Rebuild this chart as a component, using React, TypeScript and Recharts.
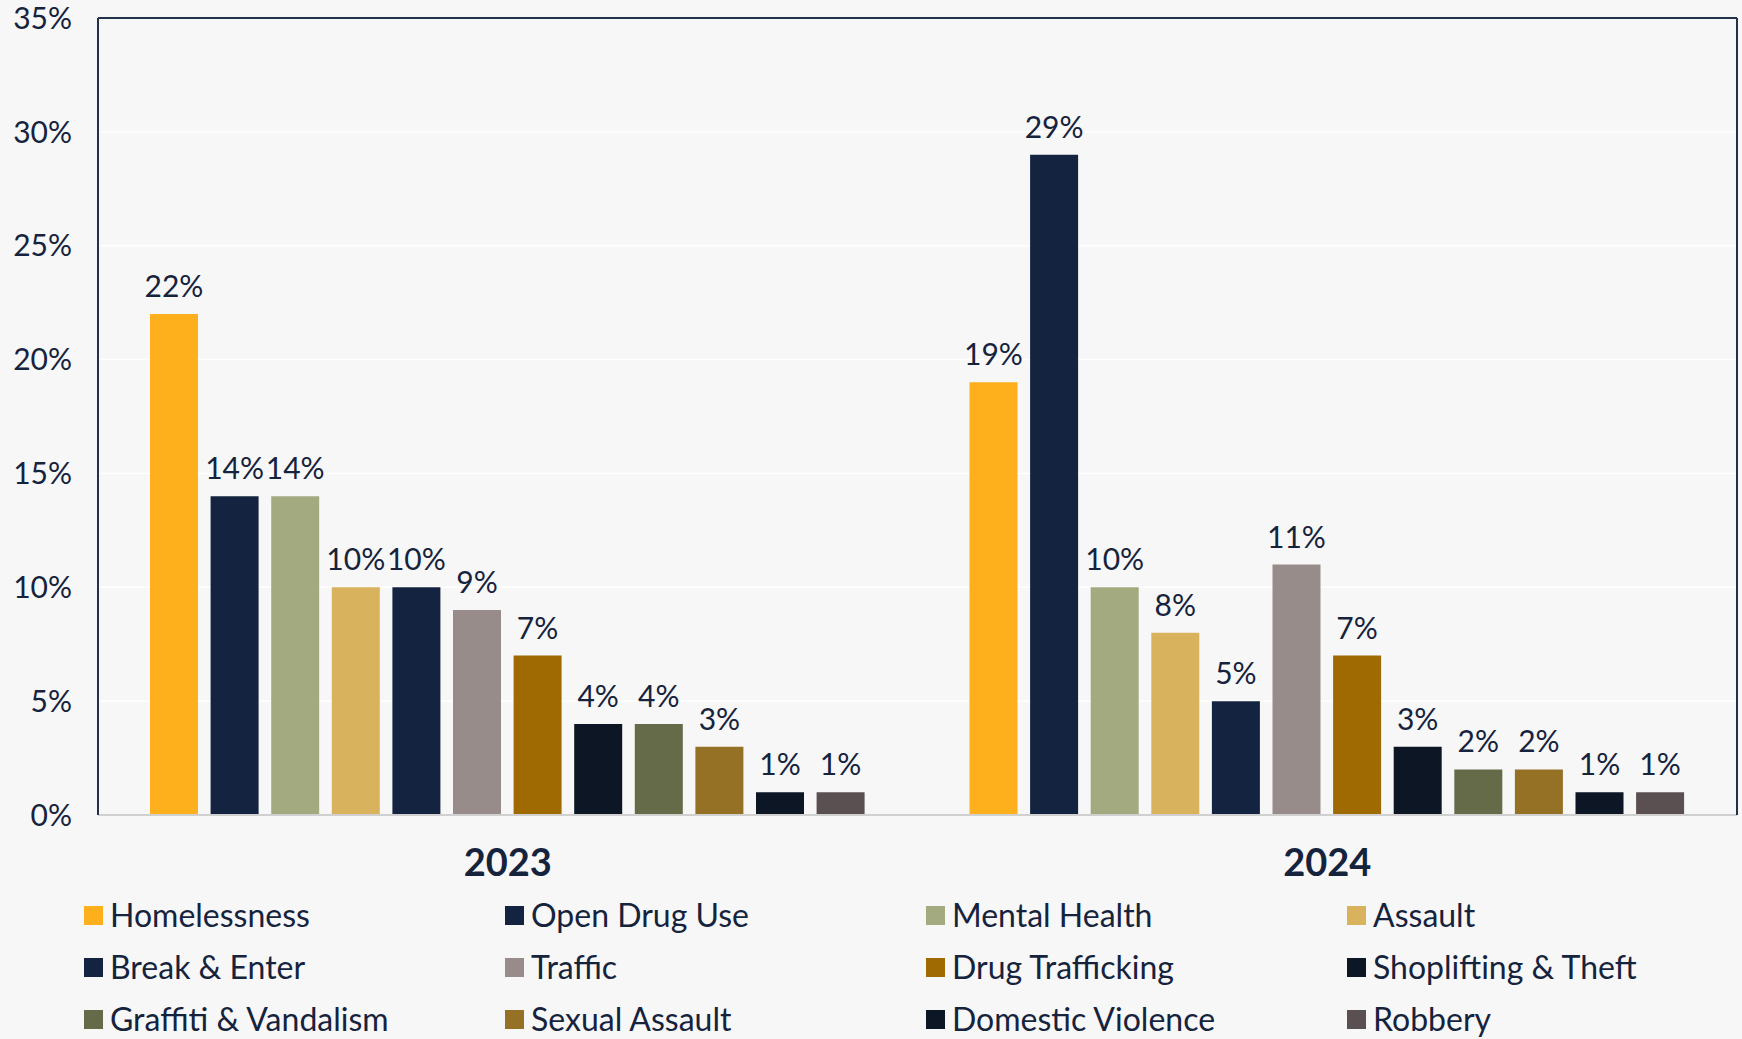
import { BarChart, Bar, XAxis, YAxis, CartesianGrid, Legend, LabelList, ReferenceLine } from 'recharts';

const years = ['2023', '2024'];

const issues = [
  'Homelessness',
  'Open Drug Use',
  'Mental Health',
  'Assault',
  'Break & Enter',
  'Traffic',
  'Drug Trafficking',
  'Shoplifting & Theft',
  'Graffiti & Vandalism',
  'Sexual Assault',
  'Domestic Violence',
  'Robbery',
];

const share2023 = [22, 14, 14, 10, 10, 9, 7, 4, 4, 3, 1, 1];
const share2024 = [19, 29, 10, 8, 5, 11, 7, 3, 2, 2, 1, 1];

const colors = [
  '#FDB01B',
  '#14233F',
  '#A4AA80',
  '#D9B25E',
  '#14233F',
  '#978C8A',
  '#A06A02',
  '#0C1625',
  '#656B48',
  '#957126',
  '#0C1625',
  '#5A5051',
];

const yTicks = [0, 5, 10, 15, 20, 25, 30, 35];

const seriesByYear = [share2023, share2024];
const data = years.map((year, yi) => {
  const row: Record<string, string | number> = { year };
  issues.forEach((name, i) => {
    row[name] = seriesByYear[yi][i];
  });
  return row;
});

const ink = '#16233d';
const font = 'Lato, "Noto Sans", sans-serif';
const frame = '#22324b';

// legend is a 4 x 3 grid under the axis
const renderLegend = () => (
  <div
    style={{
      height: 150,
      paddingLeft: 84,
      display: 'grid',
      gridTemplateColumns: 'repeat(4, 421px)',
      gridAutoRows: '52px',
      fontFamily: font,
      fontSize: 32,
      color: ink,
      boxSizing: 'border-box',
    }}
  >
    {issues.map((name, i) => (
      <div key={name} style={{ display: 'flex', alignItems: 'center', whiteSpace: 'nowrap' }}>
        <span style={{ width: 19, height: 19, background: colors[i], marginRight: 7, flex: 'none' }} />
        <span style={{ lineHeight: 1 }}>{name}</span>
      </div>
    ))}
  </div>
);

export default function App() {
  return (
    <div style={{ position: 'absolute', left: 0, top: 0, width: 1742, height: 1039, background: '#F7F7F7', overflow: 'hidden' }}>
      <BarChart
        width={1742}
        height={1039}
        data={data}
        margin={{ top: 18, right: 0, left: 0, bottom: 0 }}
        barCategoryGap={52}
        barGap={12.6}
      >
        <CartesianGrid vertical={false} stroke='#ffffff' strokeWidth={1.5} />
        <XAxis
          dataKey='year'
          height={74}
          axisLine={{ stroke: '#d0d0d0', strokeWidth: 2 }}
          tickLine={false}
          tickSize={0}
          tickMargin={34}
          tick={{ fill: ink, fontSize: 38, fontWeight: 700, fontFamily: font }}
        />
        <YAxis
          domain={[0, 35]}
          ticks={yTicks}
          width={98}
          interval={0}
          tickFormatter={(v: number) => `${v}%`}
          axisLine={{ stroke: frame, strokeWidth: 2 }}
          tickLine={false}
          tickSize={0}
          tickMargin={26}
          tick={{ fill: ink, fontSize: 30, fontFamily: font }}
        />
        <YAxis
          yAxisId='right'
          orientation='right'
          domain={[0, 35]}
          width={5}
          tick={false}
          tickLine={false}
          axisLine={{ stroke: frame, strokeWidth: 2 }}
        />
        <ReferenceLine y={35} stroke={frame} strokeWidth={2} />
        <Legend verticalAlign='bottom' content={renderLegend} wrapperStyle={{ left: 0, width: 1742, height: 150 }} />
        {issues.map((name, i) => (
          <Bar key={name} dataKey={name} fill={colors[i]} isAnimationActive={false}>
            <LabelList
              dataKey={name}
              position='top'
              offset={17}
              formatter={(v: number) => `${v}%`}
              style={{ fill: ink, fontSize: 30, fontFamily: font }}
            />
          </Bar>
        ))}
      </BarChart>
    </div>
  );
}
